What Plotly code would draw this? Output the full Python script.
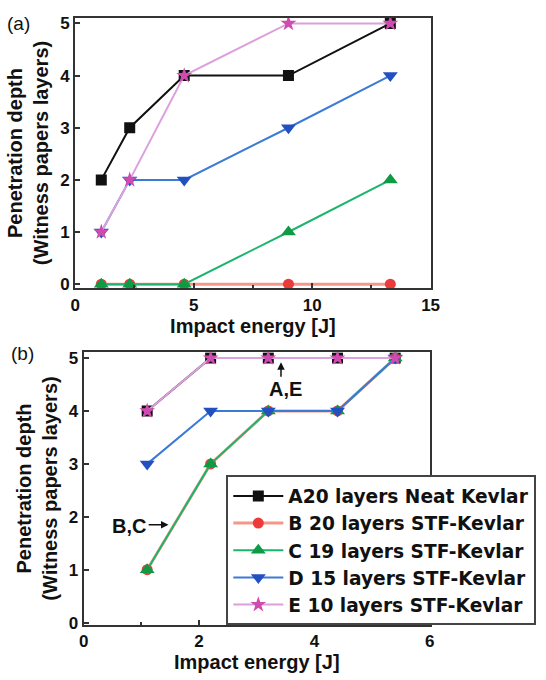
import plotly.graph_objects as go

# ---- data ----
energy_a = [1.1, 2.3, 4.6, 9.0, 13.3]
energy_b = [1.1, 2.2, 3.2, 4.4, 5.4]

names = ["A20 layers Neat Kevlar", "B 20 layers STF-Kevlar", "C 19 layers STF-Kevlar",
         "D 15 layers STF-Kevlar", "E 10 layers STF-Kevlar"]

depth_a = {
    "A": [2, 3, 4, 4, 5],
    "B": [0, 0, 0, 0, 0],
    "C": [0, 0, 0, 1, 2],
    "D": [1, 2, 2, 3, 4],
    "E": [1, 2, 4, 5, 5],
}
depth_b = {
    "A": [4, 5, 5, 5, 5],
    "B": [1, 3, 4, 4, 5],
    "C": [1, 3, 4, 4, 5],
    "D": [3, 4, 4, 4, 5],
    "E": [4, 5, 5, 5, 5],
}

styles = {
    "A": dict(symbol="square", msize=11, mcolor="#111111", lcolor="#111111", lw=2),
    "B": dict(symbol="circle", msize=11, mcolor="#ec3b3b", lcolor="#f4978a", lw=3),
    "C": dict(symbol="triangle-up", msize=13, mcolor="#0f9a45", lcolor="#1db56c", lw=2),
    "D": dict(symbol="triangle-down", msize=13, mcolor="#2250c0", lcolor="#3c7ad8", lw=2),
    "E": dict(symbol="star", msize=12, mcolor="#d04ab0", lcolor="#dca0dc", lw=2),
}

fig = go.Figure()
keys = ["A", "B", "C", "D", "E"]
for k, nm in zip(keys, names):
    s = styles[k]
    fig.add_trace(go.Scatter(x=energy_a, y=depth_a[k], mode="lines+markers", name=nm,
                             xaxis="x", yaxis="y", showlegend=False,
                             line=dict(color=s["lcolor"], width=s["lw"]),
                             marker=dict(symbol=s["symbol"], size=s["msize"], color=s["mcolor"])))
for k, nm in zip(keys, names):
    s = styles[k]
    fig.add_trace(go.Scatter(x=energy_b, y=depth_b[k], mode="lines+markers", name=nm,
                             xaxis="x2", yaxis="y2", showlegend=True,
                             line=dict(color=s["lcolor"], width=s["lw"]),
                             marker=dict(symbol=s["symbol"], size=s["msize"], color=s["mcolor"])))

font_family = "Liberation Sans, Arial, sans-serif"
tickfont = dict(family=font_family, size=17, color="#111", weight="bold")
titlefont = dict(family=font_family, size=20, color="#111", weight="bold")

common_ax = dict(showline=True, mirror=True, linecolor="#333", linewidth=2, ticks="inside",
                 ticklen=5, tickwidth=1.5, tickcolor="#333", showgrid=False, zeroline=False,
                 tickfont=tickfont)

fig.update_layout(
    width=546, height=680, margin=dict(l=0, r=0, t=0, b=0),
    paper_bgcolor="white", plot_bgcolor="white",
    xaxis=dict(domain=[0.132, 0.800], range=[0, 15], dtick=5, anchor="y",
               minor=dict(ticks="inside", dtick=2.5, ticklen=3, tickcolor="#333"),
               title=dict(text="Impact energy [J]", font=titlefont, standoff=2), **common_ax),
    yaxis=dict(domain=[0.5735, 0.978], range=[-0.08, 5.11], dtick=1, anchor="x",
               title=dict(text="Penetration depth<br>(Witness papers layers)", font=titlefont, standoff=6),
               **common_ax),
    xaxis2=dict(domain=[0.148, 0.7985], range=[0, 6], dtick=2, anchor="y2",
                minor=dict(ticks="inside", dtick=1, ticklen=3, tickcolor="#333"),
                title=dict(text="Impact energy [J]", font=titlefont, standoff=2), **common_ax),
    yaxis2=dict(domain=[0.0706, 0.478], range=[-0.04, 5.11], dtick=1, anchor="x2",
                title=dict(text="Penetration depth<br>(Witness papers layers)", font=titlefont, standoff=6),
                **common_ax),
    legend=dict(x=0.416, y=0.294, xanchor="left", yanchor="top",
                bgcolor="white", bordercolor="#444", borderwidth=2,
                font=dict(family="DejaVu Sans, sans-serif", size=18.6, color="#111", weight="bold"),
                tracegroupgap=0, itemwidth=50),
    showlegend=True,
)

fig.add_annotation(text="(a)", xref="paper", yref="paper", x=0.0, y=1 - 21 / 680, xanchor="left",
                   yanchor="middle", showarrow=False, font=dict(family=font_family, size=19, color="#111"))
fig.add_annotation(text="(b)", xref="paper", yref="paper", x=0.008, y=1 - 356 / 680, xanchor="left",
                   yanchor="middle", showarrow=False, font=dict(family=font_family, size=19, color="#111"))

# A,E label with arrow
fig.add_annotation(text="A,E", xref="x2", yref="y2", x=3.5, y=4.42, showarrow=False,
                   font=dict(family=font_family, size=20, color="#111", weight="bold"))
fig.add_annotation(text="", xref="x2", yref="y2", x=3.42, y=4.92, ax=3.42, ay=4.62,
                   axref="x2", ayref="y2", showarrow=True, arrowhead=2, arrowsize=1,
                   arrowwidth=1.5, arrowcolor="#111")
# B,C label with arrow
fig.add_annotation(text="B,C", xref="x2", yref="y2", x=0.78, y=1.83, showarrow=False,
                   font=dict(family=font_family, size=20, color="#111", weight="bold"))
fig.add_annotation(text="", xref="x2", yref="y2", x=1.47, y=1.85, ax=1.1, ay=1.85,
                   axref="x2", ayref="y2", showarrow=True, arrowhead=2, arrowsize=1,
                   arrowwidth=1.5, arrowcolor="#111")

fig.write_html("out.html", config={"displayModeBar": False},
               post_script="document.body.style.margin='0';document.body.style.padding='0';")
